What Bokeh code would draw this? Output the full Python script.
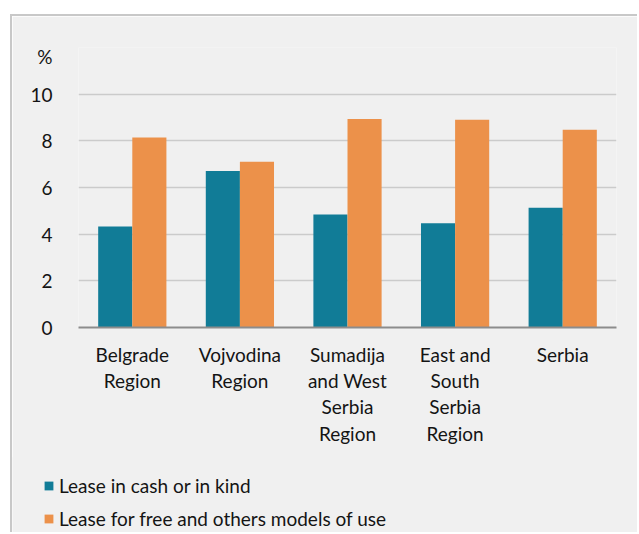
from bokeh.plotting import figure
from bokeh.models import ColumnDataSource, FactorRange, Legend, LegendItem, FixedTicker, Range1d
from bokeh.layouts import column, row
from bokeh.transform import dodge
from bokeh.embed import file_html
from bokeh.resources import INLINE

categories = ["Belgrade\nRegion", "Vojvodina\nRegion", "Sumadija\nand West\nSerbia\nRegion",
              "East and\nSouth\nSerbia\nRegion", "Serbia"]
lease_cash = [4.33, 6.71, 4.84, 4.47, 5.13]
lease_free = [8.14, 7.10, 8.94, 8.90, 8.47]
grid_ticks = [0, 2, 4, 6, 8, 10]
unit_pos = 11.6
unit_label = "%"
series_names = ["Lease in cash or in kind", "Lease for free and others models of use"]

TEAL = "#117C97"
ORANGE = "#EC914A"
BG = "#F0F0F0"
TXT = "#141414"
BORDER = "2px solid #c8c8c8"
FONT = "Lato"
FS = "19px"

src = ColumnDataSource(dict(cat=categories, a=lease_cash, b=lease_free))
xr = FactorRange(factors=categories, range_padding=0)

p = figure(x_range=xr, y_range=(0, 12),
           width=627, height=444, output_backend="svg", toolbar_location=None,
           min_border_left=66, min_border_right=23, min_border_top=31, min_border_bottom=133)
p.styles = {"margin-left": "10px", "margin-top": "14px",
            "border-left": BORDER, "border-top": BORDER}
p.background_fill_color = BG
p.border_fill_color = BG
p.outline_line_color = None

p.vbar(x=dodge("cat", -0.1585, range=xr), top="a", width=0.317, source=src,
       fill_color=TEAL, line_color=None)
p.vbar(x=dodge("cat", 0.1585, range=xr), top="b", width=0.317, source=src,
       fill_color=ORANGE, line_color=None)

p.xgrid.grid_line_color = None
p.ygrid.ticker = FixedTicker(ticks=grid_ticks)
p.ygrid.grid_line_color = "#cbcbcb"
p.ygrid.grid_line_width = 1.5

p.yaxis.ticker = FixedTicker(ticks=grid_ticks + [unit_pos])
p.yaxis.major_label_overrides = {unit_pos: unit_label}
p.yaxis.axis_line_color = None
p.yaxis.major_tick_line_color = None
p.yaxis.minor_tick_line_color = None
p.yaxis.major_label_standoff = 20
p.yaxis.major_label_text_font = FONT
p.yaxis.major_label_text_font_size = FS
p.yaxis.major_label_text_color = TXT

p.xaxis.axis_line_color = "#8c8c8c"
p.xaxis.axis_line_width = 2
p.xaxis.major_tick_line_color = None
p.xaxis.minor_tick_line_color = None
p.xaxis.major_label_standoff = 9
p.xaxis.major_label_text_font = FONT
p.xaxis.major_label_text_font_size = FS
p.xaxis.major_label_text_color = TXT
p.xaxis.major_label_text_line_height = 1.15
p.xaxis.major_label_orientation = "horizontal"

# legend strip below the chart, inside the same grey box (its renderers are hidden)
lx = FactorRange(factors=categories, range_padding=0)
lg = figure(width=627, height=75, output_backend="svg", toolbar_location=None,
            x_range=lx, y_range=Range1d(-60, -59),
            x_axis_location=None, y_axis_location=None,
            min_border_left=0, min_border_right=0, min_border_top=0, min_border_bottom=0)
lg.styles = {"margin-left": "10px", "margin-top": "-1px", "border-left": BORDER}
lg.background_fill_color = BG
lg.border_fill_color = BG
lg.outline_line_color = None
lg.grid.visible = False
k1 = lg.vbar(x=dodge("cat", -0.1585, range=lx), top="a", width=0.317, source=src,
             fill_color=TEAL, line_color=None)
k2 = lg.vbar(x=dodge("cat", 0.1585, range=lx), top="b", width=0.317, source=src,
             fill_color=ORANGE, line_color=None)
k1.visible = False
k2.visible = False

legend = Legend(items=[LegendItem(label=series_names[0], renderers=[k1]),
                       LegendItem(label=series_names[1], renderers=[k2])],
                location=(31, 2), orientation="vertical",
                glyph_width=11, glyph_height=11, label_standoff=5, spacing=10, label_height=22,
                padding=0, margin=0, border_line_color=None, background_fill_alpha=0,
                label_text_font=FONT, label_text_font_size=FS, label_text_color=TXT)
lg.add_layout(legend)

layout = column(p, row(lg, spacing=0), spacing=0)
open("out.html", "w").write(file_html(layout, INLINE))
